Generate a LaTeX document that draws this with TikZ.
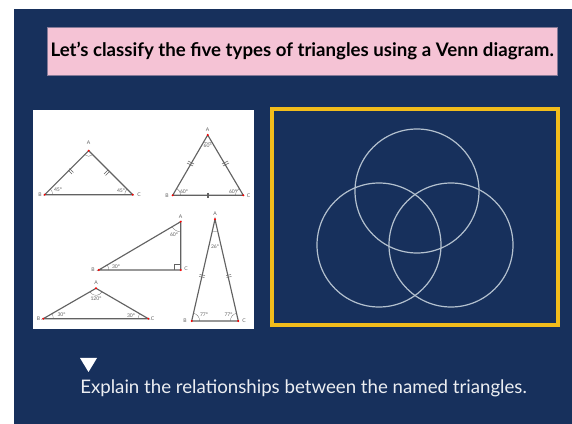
\documentclass[tikz,border=0pt]{standalone}
\usepackage{fontspec}
\setmainfont{Lato}
\usetikzlibrary{calc}
\definecolor{slidenavy}{HTML}{17305C}
\definecolor{titlepink}{HTML}{F5C3D5}
\definecolor{frameyellow}{HTML}{F2BC1B}
\definecolor{ringgrey}{HTML}{B4C1CF}
\definecolor{sidegrey}{HTML}{626262}
\tikzset{
  panel/.style={draw=none,fill=#1,inner sep=0pt,anchor=north west},
  side/.style={draw=sidegrey,line width=0.85pt},
  anglemark/.style={draw=sidegrey,line width=0.2pt},
  tickmark/.style={draw=sidegrey,line width=0.35pt},
  vertexdot/.style={circle,fill=red,inner sep=0pt,minimum size=1.6pt},
  tinylabel/.style={text=sidegrey,inner sep=0pt,font=\fontsize{3.8}{4}\selectfont},
  vennring/.style={circle,draw=ringgrey,line width=0.9pt,inner sep=0pt,minimum size=93pt}
}

\begin{document}
\begin{tikzpicture}[x=0.75pt,y=-0.75pt]
\useasboundingbox (0,0) rectangle (572,424);

%---------------- Slide background ----------------
\fill[slidenavy] (14,9) rectangle (572,424);

%---------------- Title ----------------
\node[panel=titlepink,draw=slidenavy!50!titlepink,line width=0.3pt,minimum width=382.5pt,minimum height=36pt] (titlebox) at (47,27) {};
\node[font=\bfseries\fontsize{14}{16}\selectfont,text=black] (titletext) at (titlebox.center) {Let’s classify the five types of triangles using a Venn diagram.};

%---------------- Triangle sheet ----------------
\node[panel=white,minimum width=165.75pt,minimum height=164.25pt] (sheet) at (33,110) {};

% Right isosceles
\begin{scope}
\coordinate (A1) at (88.7,150.7);
\coordinate (B1) at (44.7,194.7);
\coordinate (C1) at (132.7,194.7);
\draw[side] (A1) -- (B1) -- (C1) -- cycle;
\draw[anglemark] ($(B1)+(8,0)$) arc (0:-45:8);
\draw[anglemark] ($(C1)+(-8,0)$) arc (180:225:8);
\draw[anglemark] ($(A1)+(-4,4)$) arc (135:45:5.6);
\draw[tickmark] (68,170) -- (72,174);
\draw[tickmark] (69.5,168.5) -- (73.5,172.5);
\draw[tickmark] (104,174) -- (108,170);
\draw[tickmark] (105.5,175.5) -- (109.5,171.5);
\node[vertexdot] (dotA1) at (A1) {};
\node[vertexdot] (dotB1) at (B1) {};
\node[vertexdot] (dotC1) at (C1) {};
\node[tinylabel] (labA1) at (88.7,143) {A};
\node[tinylabel] (labB1) at (40,194.7) {B};
\node[tinylabel] (labC1) at (139,194.7) {C};
\node[tinylabel] (angB1) at (58,190) {45°};
\node[tinylabel] (angC1) at (121,191) {45°};
\end{scope}

% Equilateral
\begin{scope}
\coordinate (A2) at (207.7,135);
\coordinate (B2) at (172.7,195.3);
\coordinate (C2) at (243.3,195.3);
\draw[side] (A2) -- (B2) -- (C2) -- cycle;
\draw[anglemark] ($(B2)+(8,0)$) arc (0:-60:8);
\draw[anglemark] ($(C2)+(-8,0)$) arc (180:240:8);
\draw[anglemark] ($(A2)+(-4,7)$) arc (120:60:8);
\draw[tickmark] (188,161) -- (194,164);
\draw[tickmark] (187,163) -- (193,166);
\draw[tickmark] (222,164) -- (228,161);
\draw[tickmark] (223,166) -- (229,163);
\draw[tickmark] (207,193) -- (207,198);
\draw[tickmark] (208.6,193) -- (208.6,198);
\node[vertexdot] (dotA2) at (A2) {};
\node[vertexdot] (dotB2) at (B2) {};
\node[vertexdot] (dotC2) at (C2) {};
\node[tinylabel] (labA2) at (207.7,130) {A};
\node[tinylabel] (labB2) at (167,195.3) {B};
\node[tinylabel] (labC2) at (248.5,195.3) {C};
\node[tinylabel] (angA2) at (207.7,146) {60°};
\node[tinylabel] (angB2) at (184,192) {60°};
\node[tinylabel] (angC2) at (233,192) {60°};
\end{scope}

% Right scalene
\begin{scope}
\coordinate (A3) at (180.7,221.7);
\coordinate (B3) at (98.7,270);
\coordinate (C3) at (180.7,270);
\draw[side] (A3) -- (B3) -- (C3) -- cycle;
\draw[anglemark] ($(B3)+(10,0)$) arc (0:-30:10);
\draw[anglemark] ($(A3)+(0,10)$) arc (90:150:10);
\draw[anglemark] (174.5,270) -- (174.5,263.8) -- (180.7,263.8);
\node[vertexdot] (dotA3) at (A3) {};
\node[vertexdot] (dotB3) at (B3) {};
\node[vertexdot] (dotC3) at (C3) {};
\node[tinylabel] (labA3) at (180.7,216.5) {A};
\node[tinylabel] (labB3) at (93,270) {B};
\node[tinylabel] (labC3) at (186,269) {C};
\node[tinylabel] (angA3) at (174,235) {60°};
\node[tinylabel] (angB3) at (116,266.5) {30°};
\end{scope}

% Obtuse isosceles
\begin{scope}
\coordinate (A4) at (96,288.3);
\coordinate (B4) at (43.3,318.7);
\coordinate (C4) at (148.3,318.7);
\draw[side] (A4) -- (B4) -- (C4) -- cycle;
\draw[anglemark] ($(B4)+(10,0)$) arc (0:-30:10);
\draw[anglemark] ($(C4)+(-10,0)$) arc (180:210:10);
\draw[anglemark] ($(A4)+(-6,3.5)$) arc (150:30:7);
\node[vertexdot] (dotA4) at (A4) {};
\node[vertexdot] (dotB4) at (B4) {};
\node[vertexdot] (dotC4) at (C4) {};
\node[tinylabel] (labA4) at (96,282.5) {A};
\node[tinylabel] (labB4) at (38.5,318.7) {B};
\node[tinylabel] (labC4) at (152.5,318.7) {C};
\node[tinylabel] (angA4) at (96,299) {120°};
\node[tinylabel] (angB4) at (61.5,315) {30°};
\node[tinylabel] (angC4) at (131,316) {30°};
\end{scope}

% Acute isosceles
\begin{scope}
\coordinate (A5) at (215,219.3);
\coordinate (B5) at (191.7,321);
\coordinate (C5) at (238.3,321);
\draw[side] (A5) -- (B5) -- (C5) -- cycle;
\draw[anglemark] ($(B5)+(8,0)$) arc (0:-77:8);
\draw[anglemark] ($(C5)+(-8,0)$) arc (180:257:8);
\draw[anglemark] ($(A5)+(-2.8,12)$) arc (103:77:12.5);
\draw[tickmark] (199.5,274.5) -- (205,275.5);
\draw[tickmark] (199,276.5) -- (204.5,277.5);
\draw[tickmark] (226,275.5) -- (231,274.5);
\draw[tickmark] (226.5,277.5) -- (231.5,276.5);
\node[vertexdot] (dotA5) at (A5) {};
\node[vertexdot] (dotB5) at (B5) {};
\node[vertexdot] (dotC5) at (C5) {};
\node[tinylabel] (labA5) at (215,213.5) {A};
\node[tinylabel] (labB5) at (185,321) {B};
\node[tinylabel] (labC5) at (244,320.5) {C};
\node[tinylabel] (angA5) at (215,246.5) {26°};
\node[tinylabel] (angB5) at (204,315) {77°};
\node[tinylabel] (angC5) at (228.5,315) {77°};
\end{scope}

%---------------- Venn diagram ----------------
\draw[frameyellow,line width=3pt] (272,109) rectangle (558,325);
\node[vennring] (venntop) at (417,191) {};
\node[vennring] (vennleft) at (379,245) {};
\node[vennring] (vennright) at (451,245) {};

%---------------- Prompt ----------------
\fill[white] (80,358) -- (97,358) -- (88.5,372) -- cycle;
\node[text=white!92!slidenavy,anchor=west,inner sep=0pt,font=\fontsize{14}{16}\selectfont] (prompt) at (80,388) {Explain the relationships between the named triangles.};

\end{tikzpicture}
\end{document}
